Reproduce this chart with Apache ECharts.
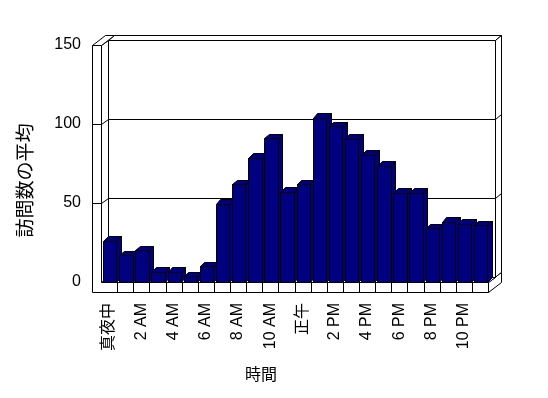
<!DOCTYPE html>
<html><head><meta charset="utf-8">
<script src="https://cdn.jsdelivr.net/npm/echarts@6/dist/echarts.min.js"></script>
<style>html,body{margin:0;padding:0;background:#fff}#c{width:548px;height:398px}</style>
</head><body><div id="c"></div>
<script>
const categories = ['真夜中','1 AM','2 AM','3 AM','4 AM','5 AM','6 AM','7 AM','8 AM','9 AM','10 AM','11 AM',
  '正午','1 PM','2 PM','3 PM','4 PM','5 PM','6 PM','7 PM','8 PM','9 PM','10 PM','11 PM'];
const visits = [26, 17, 20, 6.5, 6.5, 3.5, 10, 49.5, 62, 78.5, 91, 57, 62, 104, 98.5, 90.5, 80.5, 73.5, 56.5, 56.5, 34, 38, 37, 36];
const yTicks = [0, 50, 100, 150];
const yTitle = '訪問数の平均';
const xTitle = '時間';

const FONT = "'Liberation Sans','Noto Sans CJK JP',sans-serif";
const yMax = yTicks[yTicks.length - 1];
const r = v => Math.round(v) + 0.5;
const P = pts => pts.map(p => [r(p[0]), r(p[1])]);

function frameItem(params, api) {
  const cs = params.coordSys;
  const x0 = cs.x, x1 = cs.x + cs.width, yT = cs.y, yB = cs.y + cs.height;
  const D1 = [6.8, -5], D2 = [12.8, -10.5], WL = 8.7, FT = 10;
  const ch = [];
  const poly = pts => ch.push({type: 'polygon', shape: {points: P(pts)}, style: {fill: '#fff', stroke: '#000', lineWidth: 1}});
  const line = (a, b) => ch.push({type: 'line', shape: {x1: r(a[0]), y1: r(a[1]), x2: r(b[0]), y2: r(b[1])}, style: {stroke: '#000', lineWidth: 1}});
  poly([[x0 + D1[0], yT + D1[1]], [x1 + D1[0], yT + D1[1]], [x1 + D2[0], yT + D2[1]], [x0 + D2[0], yT + D2[1]]]);
  poly([[x1 + D1[0], yT + D1[1]], [x1 + D2[0], yT + D2[1]], [x1 + D2[0], yB + D2[1]], [x1 + D1[0], yB + D1[1]]]);
  poly([[x0 + D1[0], yT + D1[1]], [x1 + D1[0], yT + D1[1]], [x1 + D1[0], yB + D1[1]], [x0 + D1[0], yB + D1[1]]]);
  poly([[x1, yB], [x1 + D2[0], yB + D2[1]], [x1 + D2[0], yB + FT + D2[1]], [x1, yB + FT]]);
  poly([[x0, yB], [x1, yB], [x1 + D1[0], yB + D1[1]], [x0 + D1[0], yB + D1[1]]]);
  poly([[x0, yT], [x0 + D1[0], yT + D1[1]], [x0 + D1[0], yB + D1[1]], [x0, yB]]);
  poly([[x0 - WL, yT], [x0, yT], [x0 + D2[0], yT + D2[1]], [x0 - WL + D2[0], yT + D2[1]]]);
  poly([[x0 - WL, yT], [x0, yT], [x0, yB], [x1, yB], [x1, yB + FT], [x0 - WL, yB + FT]]);
  const n = categories.length;
  for (let k = 1; k < n; k++) {
    const x = x0 + cs.width * k / n;
    line([x, yB], [x, yB + FT]);
  }
  yTicks.forEach(v => {
    if (v === 0 || v === yMax) return;
    const y = api.coord([0, v])[1];
    line([x0 - WL, y], [x0, y]);
    line([x0, y], [x0 + D1[0], y + D1[1]]);
    line([x0 + D1[0], y + D1[1]], [x1 + D1[0], y + D1[1]]);
    line([x1 + D1[0], y + D1[1]], [x1 + D2[0], y + D2[1]]);
  });
  return {type: 'group', children: ch};
}

function barItem(params, api) {
  const i = api.value(0), v = api.value(1);
  const top = api.coord([i, v]), base = api.coord([i, 0]);
  const bw = api.size([1, 0])[0];
  const L = top[0] - bw * 0.37, R = top[0] + bw * 0.46;
  const d = bw * 0.28;
  const t = top[1], b = base[1];
  const sty = {fill: '#000080', stroke: '#000', lineWidth: 1};
  return {type: 'group', children: [
    {type: 'polygon', shape: {points: P([[R, t], [R + d, t - d], [R + d, b - d], [R, b]])}, style: sty},
    {type: 'polygon', shape: {points: P([[L, t], [R, t], [R + d, t - d], [L + d, t - d]])}, style: sty},
    {type: 'polygon', shape: {points: P([[L, t], [R, t], [R, b], [L, b]])}, style: sty}
  ]};
}

const chart = echarts.init(document.getElementById('c'), null, {renderer: 'canvas'});
chart.setOption({
  animation: false,
  backgroundColor: '#fff',
  grid: {left: 101, right: 60, top: 45, bottom: 116},
  xAxis: {
    type: 'category', data: categories,
    axisLine: {show: false}, axisTick: {show: false},
    axisLabel: {interval: 1, rotate: 90, margin: 21, fontSize: 16, color: '#000', fontFamily: FONT, padding: [6, 0, 0, 0]}
  },
  yAxis: {
    type: 'value', min: 0, max: yMax, interval: 50,
    axisLine: {show: false}, axisTick: {show: false}, splitLine: {show: false},
    axisLabel: {margin: 20, fontSize: 16, color: '#000', fontFamily: FONT}
  },
  graphic: [
    {type: 'text', x: 27, y: 180.5, rotation: Math.PI / 2,
     style: {text: yTitle, fontSize: 19, fontFamily: FONT, fill: '#000', align: 'center', verticalAlign: 'middle'}},
    {type: 'text', x: 261, y: 376,
     style: {text: xTitle, fontSize: 16, fontFamily: FONT, fill: '#000', align: 'center', verticalAlign: 'middle'}}
  ],
  series: [
    {type: 'custom', renderItem: frameItem, data: [[0, 0]], clip: false, silent: true, z: 1},
    {type: 'custom', renderItem: barItem, data: visits.map((v, i) => [i, v]), encode: {x: 0, y: 1}, clip: false, silent: true, z: 2}
  ]
});
</script>
</body></html>
